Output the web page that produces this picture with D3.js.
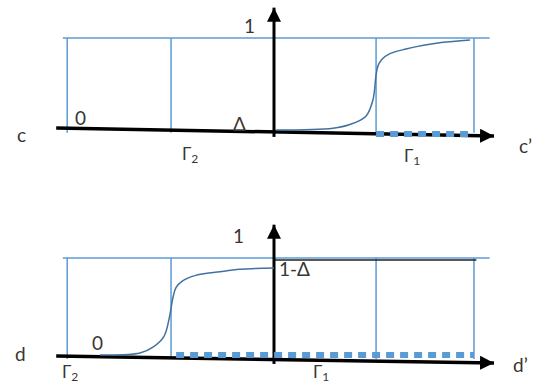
<!DOCTYPE html>
<html>
<head>
<meta charset="utf-8">
<script src="https://cdn.jsdelivr.net/npm/d3@7"></script>
<style>
  body { margin: 0; background: #fff; }
  text { font-family: Lato, "Open Sans", sans-serif; fill: #3a3530; }
</style>
</head>
<body>
<svg></svg>
<script>
// DATA (x in axis units: -1 .. 1, vertical axis at 0; y: 0 .. 1)
const BOX_EDGES = [-0.94, -0.468, 0.464, 0.909];

const C_CURVE_X = [0.009, 0.268, 0.345, 0.418, 0.45, 0.464, 0.473, 0.491, 0.527, 0.6, 0.68, 0.76, 0.891];
const C_CURVE_Y = [0, 0.02, 0.06, 0.15, 0.33, 0.6, 0.7, 0.77, 0.83, 0.88, 0.92, 0.95, 0.978];
const C_DASH = [0.464, 0.909];
const C_AXIS_Y = [0.022, -0.065];

const D_CURVE_X = [-0.791, -0.609, -0.55, -0.5, -0.475, -0.459, -0.445, -0.42, -0.36, -0.245, -0.155, 0];
const D_CURVE_Y = [0.01, 0.03, 0.09, 0.2, 0.4, 0.6, 0.7, 0.76, 0.82, 0.86, 0.885, 0.898];
const D_DASH = [-0.445, 0.909];
const D_AXIS_Y = [0, -0.071];
const D_LEVEL = 0.98;

const C_LABELS = ['c', 'c\u2019', '0', '\u0394', '1'];
const D_LABELS = ['d', 'd\u2019', '0', '1-\u0394', '1'];
const GAMMA = '\u0393';

const WIDTH = 546;
const HEIGHT = 387;
const BLUE = '#5b9bd5';
const CURVE = '#41729f';

const svg = d3.select('svg')
  .attr('width', WIDTH)
  .attr('height', HEIGHT);

//MARKERS
const defs = svg.append('defs');
defs.append('marker')
  .attr('id', 'arrow')
  .attr('markerUnits', 'userSpaceOnUse')
  .attr('markerWidth', 16)
  .attr('markerHeight', 14)
  .attr('refX', 14)
  .attr('refY', 7)
  .attr('orient', 'auto')
  .append('path')
  .attr('d', 'M0,0 L14,7 L0,14 Z')
  .attr('fill', '#000');

//SCALES
const xScale = d3.scaleLinear().domain([-1, 1]).range([54, 494]);
const yC = d3.scaleLinear().domain([0, 1]).range([130, 38]);
const yD = d3.scaleLinear().domain([0, 1]).range([356, 258]);

function drawPanel(y, opts) {
  const g = svg.append('g');
  const line = d3.line().x(d => xScale(d[0])).y(d => y(d[1]));

  // top blue line
  g.append('path')
    .attr('d', line([[-0.96, 1], [0.98, 1]]))
    .attr('stroke', BLUE).attr('stroke-width', 1.5).attr('fill', 'none');

  // box sides
  g.selectAll('.edge')
    .data(BOX_EDGES)
    .enter()
    .append('path')
    .attr('d', d => line([[d, 1], [d, -0.03]]))
    .attr('stroke', BLUE).attr('stroke-width', 1.5).attr('fill', 'none');

  if (opts.level !== undefined) {
    g.append('path')
      .attr('d', line([[0, opts.level], [0.92, opts.level]]))
      .attr('stroke', '#222').attr('stroke-width', 1.5).attr('fill', 'none');
  }

  // horizontal axis
  g.append('path')
    .attr('d', line([[-0.99, opts.axis[0]], [1, opts.axis[1]]]))
    .attr('stroke', '#000').attr('stroke-width', 3.5).attr('fill', 'none')
    .attr('marker-end', 'url(#arrow)');

  // vertical axis
  g.append('path')
    .attr('d', line([[0, opts.axis[1] - 0.01], [0, opts.top]]))
    .attr('stroke', '#000').attr('stroke-width', 3).attr('fill', 'none')
    .attr('marker-end', 'url(#arrow)');

  // sigmoid
  const pts = opts.cx.map((x, i) => [x, opts.cy[i]]);
  g.append('path')
    .attr('d', d3.line().curve(d3.curveCatmullRom.alpha(0.5)).x(d => xScale(d[0])).y(d => y(d[1]))(pts))
    .attr('stroke', CURVE).attr('stroke-width', 1.5).attr('fill', 'none');

  // dashed boundary
  g.append('path')
    .attr('d', line([[opts.dash[0], opts.dashY], [opts.dash[1], opts.dashY]]))
    .attr('stroke', BLUE).attr('stroke-width', 6).attr('stroke-dasharray', '8,6').attr('fill', 'none');

  return g;
}

drawPanel(yC, { axis: C_AXIS_Y, top: 1.33, cx: C_CURVE_X, cy: C_CURVE_Y, dash: C_DASH, dashY: -0.043 });
drawPanel(yD, { axis: D_AXIS_Y, top: 1.34, cx: D_CURVE_X, cy: D_CURVE_Y, dash: D_DASH, dashY: 0.01, level: D_LEVEL });

//LABELS
function label(text, x, y) {
  return svg.append('text').attr('x', x).attr('y', y).attr('font-size', 19).text(text);
}
function gamma(sub, x, y) {
  const t = svg.append('text').attr('x', x).attr('y', y).attr('font-size', 17);
  t.append('tspan').text(GAMMA);
  t.append('tspan').attr('font-size', 12).attr('dy', 3).text(sub);
}

label(C_LABELS[0], 17, 142);
label(C_LABELS[1], 519, 153);
label(C_LABELS[2], 75, 125);
label(C_LABELS[3], 233, 131);
label(C_LABELS[4], 244, 33);
gamma('2', 182, 160);
gamma('1', 404, 162);

label(D_LABELS[0], 15, 361);
label(D_LABELS[1], 513, 372);
label(D_LABELS[2], 92, 350);
label(D_LABELS[3], 279, 276);
label(D_LABELS[4], 233, 243);
gamma('2', 62, 378);
gamma('1', 313, 378);
</script>
</body>
</html>
